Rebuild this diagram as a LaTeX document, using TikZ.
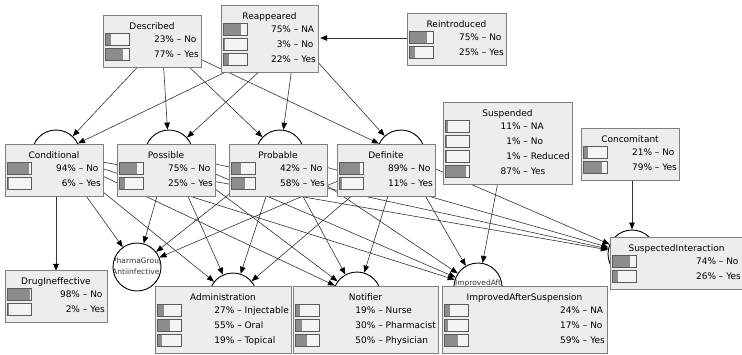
\documentclass[tikz,border=0pt]{standalone}
\usepackage{fontspec}
\setmainfont{DejaVu Sans}
\usetikzlibrary{arrows.meta,positioning}

\definecolor{boxgray}{HTML}{EDEDED}
\definecolor{framegray}{HTML}{7F7F7F}
\definecolor{barlight}{HTML}{F4F4F4}
\definecolor{barmid}{HTML}{8C8C8C}
\definecolor{bardark}{HTML}{5A5A5A}
\definecolor{linegray}{HTML}{333333}

\tikzset{
  var/.style={circle,draw=black,line width=0.9pt,fill=white,minimum size=48pt,inner sep=0pt},
  hiddenvar/.style={circle,minimum size=48pt,inner sep=0pt},
  link/.style={draw=linegray,line width=0.6pt,-{Triangle[length=7pt,width=5.5pt,color=black]}},
  boxframe/.style={draw=framegray,fill=boxgray,line width=0.8pt},
  boxtitle/.style={anchor=base,inner sep=0pt,font=\fontsize{9}{11}\selectfont},
  boxrows/.style={anchor=north east,inner sep=0pt,font=\fontsize{9}{15}\selectfont},
  barframe/.style={draw=bardark,fill=barlight,line width=0.6pt},
  barfill/.style={fill=barmid},
  circtext/.style={anchor=base west,inner sep=0pt,text=black!80,font=\fontsize{7.5}{9}\selectfont},
}

% name, left, top, right, bottom, title, percentages, rows
\newcommand{\bnbox}[8]{%
  \draw[boxframe] (#2,#3) rectangle (#4,#5);
  \node[boxtitle] (#1-title) at ({(#2+#4)/2},#3+14.3) {#6};
  \foreach \p [count=\i] in {#7} {
    \draw[barframe] (#2+2,{#3+18+15*(\i-1)}) rectangle ++(24,12);
    \fill[barfill] (#2+2.5,{#3+18.5+15*(\i-1)}) rectangle ++({23*\p/100},11);
  }
  \node[boxrows] (#1-rows) at (#4-2,#3+17) {\begin{tabular}{@{}r@{\ --\ }l@{}}#8\end{tabular}};
}

\begin{document}
\begin{tikzpicture}[x=1pt,y=-1pt]
\useasboundingbox (0,0) rectangle (742,354);
\clip (0,0) rectangle (742,354);

% variables
\node[hiddenvar] (desc) at (162,41) {};
\node[hiddenvar] (reap) at (296,38) {};
\node[hiddenvar] (reint) at (456,38) {};
\node[var] (cond) at (56,154) {};
\node[var] (poss) at (169,154) {};
\node[var] (prob) at (280,154) {};
\node[var] (defi) at (401,154) {};
\node[hiddenvar] (susp) at (505,145) {};
\node[hiddenvar] (conc) at (632,150) {};
\node[var] (susi) at (632,254) {};
\node[hiddenvar] (drug) at (56,295) {};
\node[var] (phar) at (137,267) {};
\node[var] (admi) at (233,297) {};
\node[var] (noti) at (357,296) {};
\node[var] (imps) at (478,287) {};

% names inside the open circles
\begin{scope}
  \clip (phar.center) circle (24pt);
  \node[circtext] (phar-name1) at (112,263.5) {PharmaGroup};
  \node[circtext] (phar-name2) at (112,274) {Antiinfective};
\end{scope}
\begin{scope}
  \clip (imps.center) circle (24pt);
  \node[circtext] (imps-name) at (455,285.5) {ImprovedAfterSuspension};
\end{scope}

% arcs
\foreach \a/\b in {desc/cond,desc/poss,desc/prob,desc/defi,
                   reap/cond,reap/poss,reap/prob,reap/defi,reint/reap,
                   cond/drug,cond/phar,cond/admi,cond/noti,cond/imps,cond/susi,
                   poss/phar,poss/admi,poss/noti,poss/imps,poss/susi,
                   prob/phar,prob/admi,prob/noti,prob/imps,prob/susi,
                   defi/phar,defi/admi,defi/noti,defi/imps,defi/susi,
                   susp/imps,conc/susi}
  \draw[link] (\a) -- (\b);

% monitor boxes
\bnbox{desc}{103}{15}{201}{67}{Described}{23,77}{23\% & No\\77\% & Yes}
\bnbox{reap}{221}{5}{318}{72}{Reappeared}{75,3,22}{75\% & NA\\3\% & No\\22\% & Yes}
\bnbox{reint}{407}{13}{506}{65}{Reintroduced}{75,25}{75\% & No\\25\% & Yes}
\bnbox{cond}{5}{144}{103}{196}{Conditional}{94,6}{94\% & No\\6\% & Yes}
\bnbox{poss}{117}{144}{215}{196}{Possible}{75,25}{75\% & No\\25\% & Yes}
\bnbox{prob}{229}{144}{327}{196}{Probable}{42,58}{42\% & No\\58\% & Yes}
\bnbox{defi}{337}{144}{435}{196}{Definite}{89,11}{89\% & No\\11\% & Yes}
\bnbox{susp}{443}{102}{572}{184}{Suspended}{11,1,1,87}{11\% & NA\\1\% & No\\1\% & Reduced\\87\% & Yes}
\bnbox{conc}{581}{128}{679}{180}{Concomitant}{21,79}{21\% & No\\79\% & Yes}
\bnbox{susi}{610}{237}{743}{289}{SuspectedInteraction}{74,26}{74\% & No\\26\% & Yes}
\bnbox{drug}{5}{270}{107}{322}{DrugIneffective}{98,2}{98\% & No\\2\% & Yes}
\bnbox{admi}{155}{286}{291}{353}{Administration}{27,55,19}{27\% & Injectable\\55\% & Oral\\19\% & Topical}
\bnbox{noti}{293}{286}{438}{353}{Notifier}{19,30,50}{19\% & Nurse\\30\% & Pharmacist\\50\% & Physician}
\bnbox{imps}{442}{286}{607}{353}{ImprovedAfterSuspension}{24,17,59}{24\% & NA\\17\% & No\\59\% & Yes}
\end{tikzpicture}
\end{document}
